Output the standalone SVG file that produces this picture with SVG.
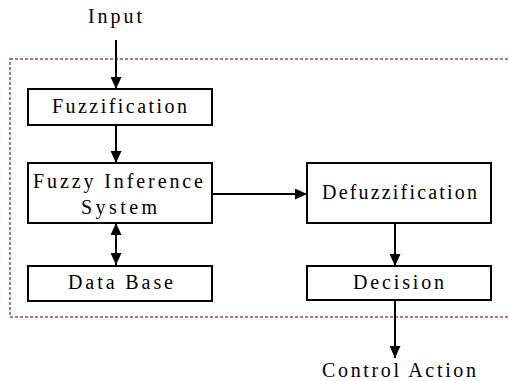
<svg xmlns="http://www.w3.org/2000/svg" width="509" height="381" viewBox="0 0 509 381">
<style>
.box{fill:#fff;stroke:#000;stroke-width:2}
.lbl{font-family:'Liberation Serif','DejaVu Serif',serif;font-size:20px;fill:#000}
.edge{stroke:#000;stroke-width:2;fill:none}
</style>
<defs>
<marker id="ah" markerUnits="userSpaceOnUse" markerWidth="12" markerHeight="11" refX="12" refY="5.5" orient="auto-start-reverse">
<path d="M0,0 L12,5.5 L0,11 z" fill="#000"/>
</marker>
</defs>
<rect x="10" y="59" width="510" height="258" fill="none" stroke="#a04848" stroke-width="1.5" stroke-dasharray="3,2"/>
<g id="connectors">
<line class="edge" x1="116" y1="40" x2="116" y2="89" marker-end="url(#ah)"/>
<line class="edge" x1="116" y1="125" x2="116" y2="163" marker-end="url(#ah)"/>
<line class="edge" x1="116" y1="223" x2="116" y2="265" marker-start="url(#ah)" marker-end="url(#ah)"/>
<line class="edge" x1="212" y1="194" x2="307" y2="194" marker-end="url(#ah)"/>
<line class="edge" x1="395" y1="223" x2="395" y2="266" marker-end="url(#ah)"/>
<line class="edge" x1="395" y1="300" x2="395" y2="358" marker-end="url(#ah)"/>
</g>
<g id="input"><text class="lbl" x="88" y="23" textLength="54" lengthAdjust="spacing">Input</text></g>
<g id="fuzzification">
<rect class="box" x="28" y="89" width="184" height="36"/>
<text class="lbl" x="52" y="113" textLength="135" lengthAdjust="spacing">Fuzzification</text>
</g>
<g id="fis">
<rect class="box" x="28" y="163" width="184" height="60"/>
<text class="lbl" x="33" y="188" textLength="170" lengthAdjust="spacing">Fuzzy Inference</text>
<text class="lbl" x="81" y="214" textLength="76" lengthAdjust="spacing">System</text>
</g>
<g id="database">
<rect class="box" x="28" y="266" width="184" height="35"/>
<text class="lbl" x="68" y="289" textLength="105" lengthAdjust="spacing">Data Base</text>
</g>
<g id="defuzzification">
<rect class="box" x="307" y="163" width="184" height="60"/>
<text class="lbl" x="322" y="199" textLength="155" lengthAdjust="spacing">Defuzzification</text>
</g>
<g id="decision">
<rect class="box" x="307" y="266" width="184" height="34"/>
<text class="lbl" x="353" y="289" textLength="91" lengthAdjust="spacing">Decision</text>
</g>
<g id="control"><text class="lbl" x="322" y="377" textLength="154" lengthAdjust="spacing">Control Action</text></g>
</svg>
